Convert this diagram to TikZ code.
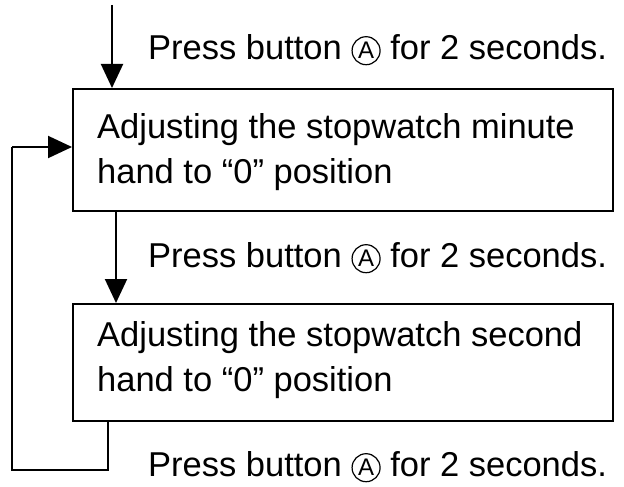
\documentclass[tikz,border=0pt]{standalone}
\usepackage{fontspec}
\setmainfont{Liberation Sans}
\usetikzlibrary{arrows.meta}
\newcommand\circA{\tikz[baseline={([yshift=-9pt]x.center)}]\node[draw,circle,inner sep=0pt,minimum size=28pt,font=\fontsize{24}{24}\selectfont,line width=1.2pt](x){A};}
\begin{document}
\begin{tikzpicture}[x=1pt,y=-1pt,
  box/.style={draw,line width=2pt,minimum width=540pt,anchor=north west,inner sep=0pt},
  lbl/.style={anchor=west,font=\fontsize{34.5}{36}\selectfont,inner sep=0pt},
  txt/.style={anchor=west,font=\fontsize{34.5}{45}\selectfont,align=left,inner sep=0pt},
  conn/.style={line width=2pt,-{Triangle[length=24pt,width=22pt]}}]
\fill[white] (0,0) rectangle (624,487);
\useasboundingbox (0,0) rectangle (624,487);
\node[box,minimum height=122pt] (b1) at (72,88) {};
\node[box,minimum height=117pt] (b2) at (72,303) {};
\node[txt] (t1) at (97,152) {Adjusting the stopwatch minute\\hand to “0” position};
\node[txt] (t2) at (97,360) {Adjusting the stopwatch second\\hand to “0” position};
\coordinate (top) at (112,5);
\draw[conn] (top) -- (112,88);
\draw[conn] (116,210) -- (116,303);
\coordinate (c1) at (108,470);
\coordinate (c2) at (12,470);
\coordinate (c3) at (12,147);
\draw[line width=2pt] (108,420) -- (c1) -- (c2) -- (c3);
\draw[conn] (c3) -- (b1.west |- c3);
\node[lbl] (p1) at (148,50) {Press button \circA{} for 2 seconds.};
\node[lbl] (p2) at (148,258) {Press button \circA{} for 2 seconds.};
\node[lbl] (p3) at (148,467) {Press button \circA{} for 2 seconds.};
\end{tikzpicture}
\end{document}
